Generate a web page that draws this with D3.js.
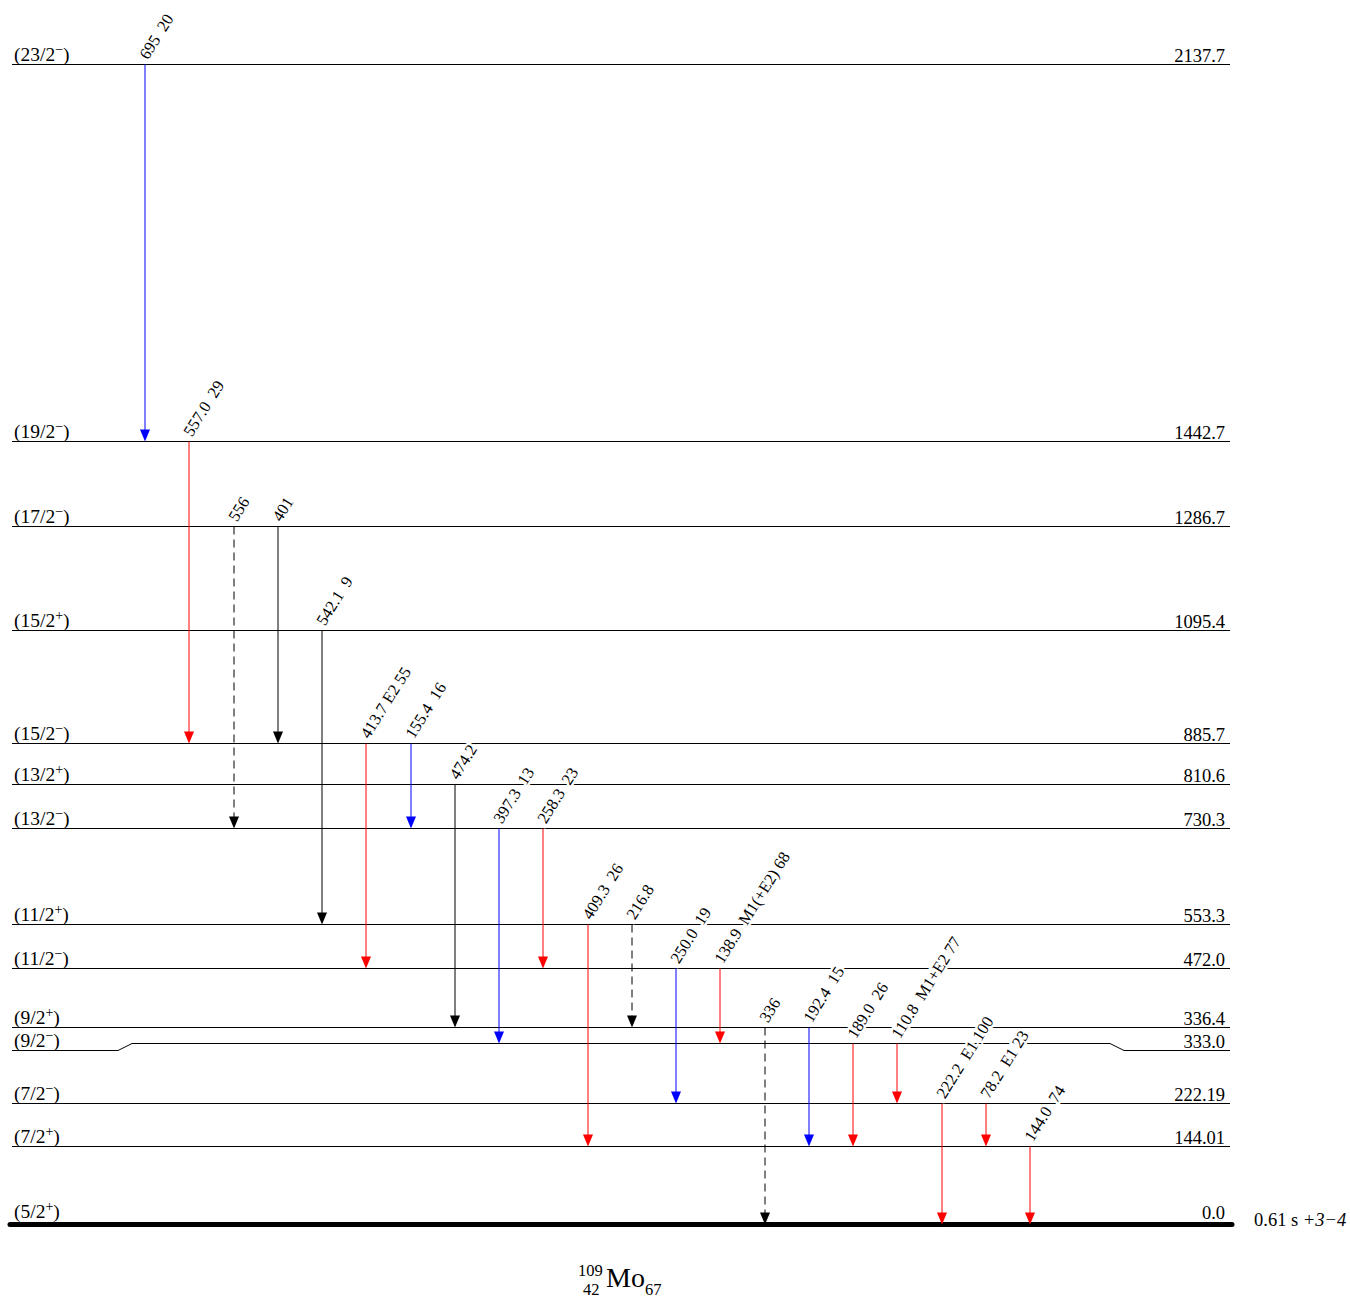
<!DOCTYPE html>
<html><head><meta charset="utf-8">
<script src="https://cdn.jsdelivr.net/npm/d3@7"></script>
<style>
body{margin:0;background:#fff;}
text{font-family:"Liberation Serif","Times New Roman",serif;fill:#000;}
</style></head>
<body><svg id="c" width="1350" height="1299"></svg>
<script>
// ---- data ----
const levelEnergies = [0.0, 144.01, 222.19, 333.0, 336.4, 472.0, 553.3, 730.3, 810.6, 885.7, 1095.4, 1286.7, 1442.7, 2137.7];
const levelLabels   = ["0.0","144.01","222.19","333.0","336.4","472.0","553.3","730.3","810.6","885.7","1095.4","1286.7","1442.7","2137.7"];
const levelSpins    = ["5/2","7/2","7/2","9/2","9/2","11/2","11/2","13/2","13/2","15/2","15/2","17/2","19/2","23/2"];
const levelParities = ["+","+","\u2212","\u2212","+","\u2212","+","\u2212","+","\u2212","+","\u2212","\u2212","\u2212"];

const gammaFrom   = [2137.7, 1442.7, 1286.7, 1286.7, 1095.4, 885.7, 885.7, 810.6, 730.3, 730.3, 553.3, 553.3, 472.0, 472.0, 336.4, 336.4, 333.0, 333.0, 222.19, 222.19, 144.01];
const gammaTo     = [1442.7, 885.7, 730.3, 885.7, 553.3, 472.0, 730.3, 336.4, 333.0, 472.0, 144.01, 336.4, 222.19, 333.0, 0.0, 144.01, 144.01, 222.19, 0.0, 144.01, 0.0];
const gammaLabels = ["695  20","557.0  29","556","401","542.1  9","413.7 E2 55","155.4  16","474.2","397.3  13","258.3  23","409.3  26","216.8","250.0  19","138.9  M1(+E2) 68","336","192.4  15","189.0  26","110.8  M1+E2 77","222.2  E1 100","78.2  E1 23","144.0  74"];
const gammaKind   = ["blue","red","dashed","black","black","red","blue","black","blue","red","red","dashed","blue","red","dashed","blue","red","red","red","red","red"];

const halfLife = "0.61 s ";
const halfLifeUnc = "+3\u22124";
const nucleus = {A:"109", Z:"42", sym:"Mo", N:"67"};

// ---- layout ----
const svg = d3.select("#c");
const y = d3.scaleLinear().domain([0, 2137.7]).range([1224, 64]);
const xLeft = 12, xRight = 1230;
const colors = {blue:"#0000ff", red:"#ff0000", black:"#000", dashed:"#000"};

// drawn positions with minimum separation
const minGap = 16;
const lv = levelEnergies.map((e,i)=>({e, label:levelLabels[i], spin:levelSpins[i], par:levelParities[i], yd:Math.round(y(e))+0.5, kink:false}));
for (let i=1;i<lv.length;i++){
  if (lv[i-1].yd - lv[i].yd < minGap){
    lv[i].yd = lv[i-1].yd - minGap;
    lv[i-1].kink = true;
  }
}
const posOf = e => lv.find(l=>l.e===e).yd;

// level lines
lv.forEach(l=>{
  if (l.e===0){
    svg.append("line").attr("x1",10).attr("x2",1232).attr("y1",l.yd).attr("y2",l.yd)
      .attr("stroke","#000").attr("stroke-width",5).attr("stroke-linecap","round");
  } else if (l.kink){
    const d = 7;
    const pts = [[xLeft,l.yd+d],[118,l.yd+d],[132,l.yd],[1110,l.yd],[1124,l.yd+d],[xRight,l.yd+d]];
    svg.append("path").attr("d",d3.line()(pts)).attr("fill","none").attr("stroke","#000").attr("stroke-width",1);
  } else {
    svg.append("line").attr("x1",xLeft).attr("x2",xRight).attr("y1",l.yd).attr("y2",l.yd)
      .attr("stroke","#000").attr("stroke-width",1);
  }
  const base = (l.kink? l.yd+7 : l.yd) - (l.e===0 ? 3 : 0);
  const t = svg.append("text").attr("x",14).attr("y",base-4).attr("font-size",19.5);
  t.append("tspan").text("("+l.spin);
  t.append("tspan").text(l.par).attr("font-size",14).attr("dy",-7);
  t.append("tspan").text(")").attr("dy",7);
  svg.append("text").attr("x",1225).attr("y",base-2.5).attr("font-size",18.5).attr("text-anchor","end").text(l.label);
});

// transitions
const xg = d3.scalePoint().domain(d3.range(gammaLabels.length)).range([145, 1030]);
const lblLayer = [];
gammaLabels.forEach((lab,i)=>{
  const x = Math.round(xg(i));
  const y1 = posOf(gammaFrom[i]), y2 = posOf(gammaTo[i]);
  const c = colors[gammaKind[i]];
  svg.append("line").attr("x1",x).attr("x2",x).attr("y1",y1).attr("y2",y2-10)
    .attr("stroke",c).attr("stroke-width",1)
    .attr("stroke-dasharray",gammaKind[i]==="dashed"?"8,5":null);
  svg.append("path").attr("d",`M${x-5},${y2-12}L${x+5},${y2-12}L${x},${y2}Z`).attr("fill",c);
  lblLayer.push({x,y1,lab});
});
lblLayer.forEach(d=>{
  svg.append("text").attr("font-size",16.5)
    .attr("transform",`translate(${d.x+3},${d.y1-4}) rotate(-58)`)
    .attr("stroke","#fff").attr("stroke-width",5).attr("paint-order","stroke")
    .style("white-space","pre").text(d.lab);
});

// half-life
const hl = svg.append("text").attr("x",1254).attr("y",1226).attr("font-size",18.5);
hl.append("tspan").style("white-space","pre").text(halfLife);
hl.append("tspan").attr("font-style","italic").text(halfLifeUnc);

// nucleus label
svg.append("text").attr("x",578).attr("y",1276).attr("font-size",16.5).text(nucleus.A);
svg.append("text").attr("x",583).attr("y",1295).attr("font-size",16.5).text(nucleus.Z);
svg.append("text").attr("x",606).attr("y",1287).attr("font-size",28).text(nucleus.sym);
svg.append("text").attr("x",645).attr("y",1295).attr("font-size",16.5).text(nucleus.N);
</script></body></html>
